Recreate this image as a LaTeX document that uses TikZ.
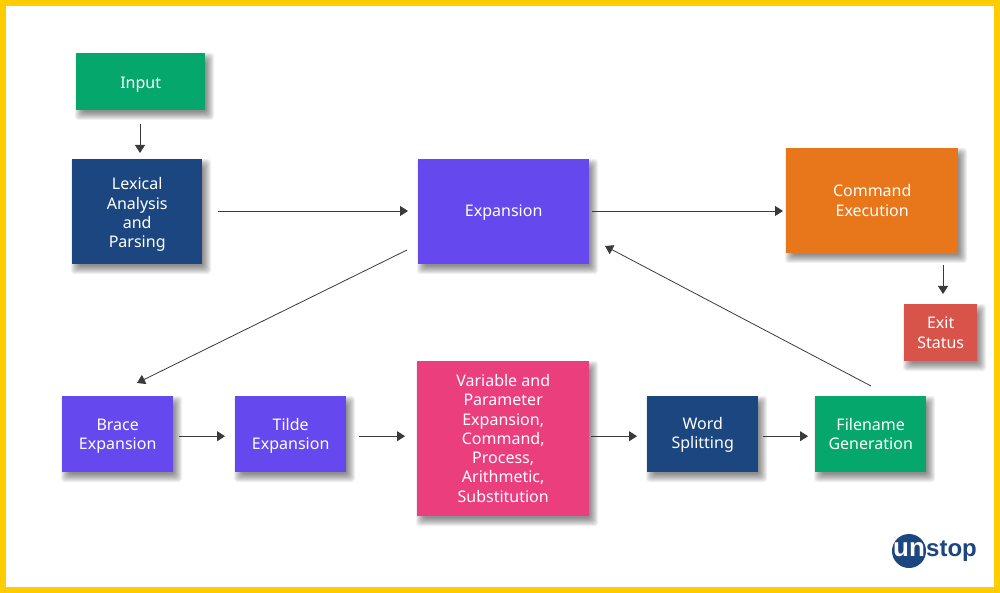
\documentclass[tikz,border=0pt]{standalone}
\usepackage{fontspec}
\setmainfont{Noto Sans}
\newfontfamily\markfont{Liberation Sans}
\usetikzlibrary{arrows.meta}
\definecolor{frameyellow}{HTML}{FFCC00}
\definecolor{boxgreen}{HTML}{06A76C}
\definecolor{boxnavy}{HTML}{1C4680}
\definecolor{boxpurple}{HTML}{6549EE}
\definecolor{boxorange}{HTML}{E8761B}
\definecolor{boxred}{HTML}{D8544A}
\definecolor{boxpink}{HTML}{EB3E7D}
\definecolor{linegrey}{HTML}{3A3A3A}
\tikzset{
  softlayer/.style={fill=black,fill opacity=.06,rounded corners=3pt},
  flowbox/.style={fill=#1,text=white,font=\fontsize{16}{19.3}\selectfont,
      align=center,inner sep=0pt,anchor=north west,
      execute at end node=\strut},
  link/.style={draw=linegrey,line width=.8pt,-{Triangle[length=8pt,width=10pt]}},
}
% extra height on a box's first line, to settle its text block vertically
\newcommand{\headroom}[1]{\rule{0pt}{#1pt}}
% id, colour, left, top, width, height, text: a box above a soft stack of shadow layers
\newcommand{\flowbox}[7]{%
  \foreach \d in {-3,-2,-1,0,1,2,3,4,5}{
    \fill[softlayer] (#3+4-\d,#4+5-\d) rectangle (#3+#5+4+\d,#4+#6+5+\d);
  }
  \node[flowbox=#2,minimum width=#5pt,minimum height=#6pt] (#1) at (#3,#4) {#7};}
\begin{document}
\begin{tikzpicture}[x=1pt,y=-1pt]
  \useasboundingbox (0,0) rectangle (1000,593);
  \fill[white] (0,0) rectangle (1000,593);
  \draw[frameyellow,line width=6pt] (3,3) rectangle (997,590);

  % process boxes
  \flowbox{input}{boxgreen}{76}{53}{129}{57}{\headroom{18.5}Input}
  \flowbox{lexer}{boxnavy}{72}{159}{130}{105}{\headroom{20}Lexical\\Analysis\\and\\Parsing}
  \flowbox{expansion}{boxpurple}{418}{159}{171}{105}{\headroom{18.5}\raisebox{2pt}{Expansion}}
  \flowbox{command}{boxorange}{786}{148}{172}{105}{\headroom{17.5}Command\\Execution}
  \flowbox{exit}{boxred}{904}{304}{73}{57}{\headroom{17.5}Exit\\Status}
  \flowbox{brace}{boxpurple}{62}{396}{111}{76}{\headroom{17.5}Brace\\Expansion}
  \flowbox{tilde}{boxpurple}{235}{396}{111}{76}{\headroom{17.5}Tilde\\Expansion}
  \flowbox{subst}{boxpink}{417}{361}{172}{155}{\headroom{17}Variable and\\Parameter\\Expansion,\\Command,\\Process,\\Arithmetic,\\Substitution}
  \flowbox{split}{boxnavy}{647}{396}{111}{76}{\headroom{16}Word\\Splitting}
  \flowbox{filename}{boxgreen}{815}{396}{111}{76}{\headroom{17.5}Filename\\Generation}

  % free ends of the connectors that stop short of a box
  \coordinate (inputout) at (140,124);
  \coordinate (lexerin) at (140,153);
  \coordinate (lexerout) at (218,211);
  \coordinate (expin) at (408,211);
  \coordinate (expout) at (592,211);
  \coordinate (cmdin) at (783,211);
  \coordinate (cmdout) at (943,265);
  \coordinate (exitin) at (943,294);
  \coordinate (expdown) at (407,250);
  \coordinate (bracein) at (137,383);
  \coordinate (fileout) at (871,386);
  \coordinate (expback) at (605,246);

  % connectors
  \draw[link] (inputout) -- (lexerin);
  \draw[link] (lexerout) -- (expin);
  \draw[link] (expout) -- (cmdin);
  \draw[link] (cmdout) -- (exitin);
  \draw[link] (expdown) -- (bracein);
  \draw[link] (fileout) -- (expback);
  \draw[link,shorten <=6pt,shorten >=10pt] ([yshift=-2pt]brace.east) -- ([yshift=-2pt]tilde.west);
  \draw[link,shorten <=13pt,shorten >=12pt] ([yshift=-2pt]tilde.east) -- ([yshift=-2pt]subst.west |- tilde.east);
  \draw[link,shorten <=2pt,shorten >=10pt] ([yshift=-2pt]subst.east |- split.west) -- ([yshift=-2pt]split.west);
  \draw[link,shorten <=5pt,shorten >=7pt] ([yshift=-2pt]split.east) -- ([yshift=-2pt]filename.west);

  % wordmark
  \fill[boxnavy] (909,551) circle (17);
  \node[inner sep=0pt,text=white,font=\markfont\fontsize{26}{26}\bfseries\selectfont] (markun) at (909,549.5) {un};
  \node[inner sep=0pt,text=boxnavy,font=\markfont\fontsize{24}{24}\bfseries\selectfont,anchor=west] (markstop) at (926,551) {stop};
\end{tikzpicture}
\end{document}
